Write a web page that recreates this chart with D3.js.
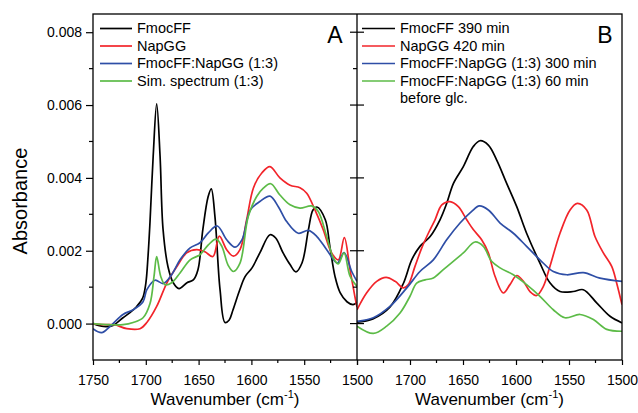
<!DOCTYPE html>
<html>
<head>
<meta charset="utf-8">
<script src="https://cdn.jsdelivr.net/npm/d3@7"></script>
<style>
  body { margin: 0; background: #fff; }
  svg { display: block; font-family: Arial, "Liberation Sans", sans-serif; }
</style>
</head>
<body>
<div id="chart"></div>
<script>
// ---- data: [wavenumber (cm-1), absorbance] ----
// panel A
const fmocA = [[1750,0],[1740,-0.00008],[1731,-0.00005],[1721.6,0.00016],[1715,0.0003],[1708.6,0.00047],[1703,0.0007],[1700,0.0011],[1698,0.0018],[1696,0.0028],[1693,0.0046],[1689.7,0.00603],[1686.5,0.0046],[1683.7,0.0026],[1679,0.00156],[1674,0.00112],[1668.6,0.00096],[1661,0.00112],[1655,0.0012],[1650.6,0.00148],[1646,0.00258],[1641,0.00348],[1638,0.0037],[1634.5,0.00293],[1629.7,0.00093],[1625,0.00003],[1621,0.0001],[1617.4,0.00038],[1611,0.00093],[1606,0.00129],[1599.4,0.00153],[1592,0.00194],[1582.4,0.00244],[1577,0.00235],[1570,0.00194],[1563.4,0.00162],[1557.8,0.00142],[1552,0.00167],[1546,0.00258],[1541.7,0.00312],[1538,0.0032],[1530,0.00285],[1525.6,0.0021],[1520.8,0.00129],[1516,0.00085],[1509.5,0.0006],[1503.8,0.00052],[1500,0.00058]];
const napA = [[1750,0],[1740,-0.00003],[1730,-0.00003],[1718,-0.00014],[1705.5,-0.00014],[1699,0.00003],[1689.7,0.00047],[1680,0.00112],[1670.7,0.00156],[1661.3,0.00194],[1651.8,0.00203],[1644,0.00197],[1636.4,0.00184],[1630.4,0.0024],[1623.4,0.00203],[1617,0.00185],[1610.8,0.00203],[1604.5,0.00285],[1598,0.00373],[1590,0.00414],[1582.4,0.00431],[1573,0.004],[1563.4,0.0038],[1554,0.00373],[1547.6,0.00358],[1539.8,0.00312],[1532,0.00258],[1524,0.00194],[1517.7,0.00175],[1512,0.00236],[1506.6,0.00148],[1502,0.00074],[1500,0.00045]];
const mixA = [[1750,-0.00014],[1741.8,-0.00025],[1734,-0.00008],[1721.6,0.00025],[1712,0.00038],[1702.6,0.0006],[1699,0.00093],[1691.3,0.00119],[1683.4,0.0011],[1675.5,0.00134],[1667.6,0.00175],[1658,0.00208],[1648.7,0.00222],[1640.8,0.00249],[1632.3,0.00268],[1623.4,0.0023],[1615.5,0.0021],[1609,0.0023],[1601,0.00312],[1592,0.00335],[1582.4,0.0035],[1574.5,0.00321],[1566.6,0.0028],[1555.6,0.00248],[1546,0.00256],[1538,0.00239],[1528.7,0.00203],[1518.6,0.00166],[1512.3,0.00195],[1505,0.00143],[1500,0.00116]];
const simA = [[1750,0],[1735,-0.00003],[1721.6,-0.00003],[1712,0.00003],[1702.6,0.00016],[1696,0.00055],[1692.2,0.0013],[1689.7,0.00184],[1685.9,0.0013],[1681.8,0.00107],[1675.5,0.00112],[1667.6,0.00139],[1658,0.00175],[1648.7,0.00189],[1640.8,0.00216],[1633.5,0.00232],[1628,0.00212],[1622,0.0016],[1617,0.00143],[1610.8,0.00166],[1603,0.00294],[1595,0.00349],[1588.7,0.00372],[1581.7,0.00384],[1573,0.00353],[1563.4,0.00326],[1554,0.00317],[1543,0.00323],[1536.7,0.00308],[1528.7,0.00239],[1522.4,0.0018],[1517.7,0.00164],[1512.3,0.00194],[1506.6,0.0013],[1500,0.00102]];
// panel B
const fmocB = [[1750,0.00004],[1735,0.00013],[1719,0.00045],[1706.3,0.0011],[1698.4,0.00175],[1690.6,0.00212],[1681,0.00239],[1671.7,0.00285],[1665.4,0.0033],[1659,0.00385],[1649.7,0.00431],[1640.3,0.00486],[1634,0.00502],[1626.1,0.0049],[1618.2,0.00449],[1608.8,0.00385],[1599.3,0.00321],[1590,0.00248],[1577.4,0.00166],[1568,0.00112],[1558.5,0.00088],[1546,0.00088],[1536.5,0.00093],[1523.9,0.00057],[1511.3,0.0002],[1500,0.00002]];
const napB = [[1750,0.00038],[1741,0.00084],[1731.4,0.00116],[1722.6,0.00127],[1714,0.00116],[1706.3,0.00098],[1701.6,0.00107],[1695.3,0.00157],[1689,0.00207],[1682.7,0.00248],[1676.4,0.00285],[1670,0.00326],[1662.3,0.00335],[1654.4,0.00321],[1646.5,0.00285],[1640.3,0.00258],[1632.4,0.0023],[1626.1,0.00194],[1619.8,0.0013],[1612,0.00084],[1605.7,0.00107],[1599.3,0.00132],[1593,0.00116],[1586.8,0.00088],[1580.5,0.00077],[1574.2,0.00102],[1568,0.00157],[1558.5,0.00248],[1549,0.00312],[1542.1,0.0033],[1533.3,0.00312],[1525.5,0.00239],[1517.6,0.00194],[1509.7,0.00157],[1505,0.00111],[1500,0.00052]];
const mixB = [[1750,0.00006],[1734.6,0.00016],[1718.9,0.00047],[1703,0.00098],[1690.6,0.00143],[1678,0.00175],[1665.4,0.0023],[1652.8,0.00276],[1641.8,0.00308],[1634.6,0.00323],[1626.1,0.00312],[1615,0.00276],[1602.5,0.00248],[1590,0.00212],[1577.4,0.00175],[1564.8,0.00143],[1552,0.00134],[1536.5,0.0014],[1520.8,0.00125],[1500,0.00116]];
const mix60B = [[1750,-0.00007],[1734.6,-0.00027],[1722,-0.00007],[1709.4,0.00029],[1700,0.00075],[1693.7,0.00111],[1685.8,0.0012],[1678,0.00125],[1668.6,0.00148],[1659.2,0.00171],[1649.7,0.00194],[1638.7,0.00224],[1630.8,0.00212],[1623,0.00171],[1615,0.00153],[1602.5,0.00134],[1590,0.00107],[1577.4,0.00075],[1564.8,0.00038],[1553.8,0.00016],[1539.6,0.00025],[1527,0.00011],[1514.4,-0.00016],[1500,-0.00021]];

const legendA = ["FmocFF", "NapGG", "FmocFF:NapGG (1:3)", "Sim. spectrum (1:3)"];
const legendB = ["FmocFF 390 min", "NapGG 420 min", "FmocFF:NapGG (1:3) 300 min", "FmocFF:NapGG (1:3) 60 min"];
const yMajor = [0, 0.002, 0.004, 0.006, 0.008];
const yMinor = [0.001, 0.003, 0.005, 0.007];
const xMajor = [1750, 1700, 1650, 1600, 1550, 1500];
const xMinor = [1725, 1675, 1625, 1575, 1525];
const colors = ["#000000", "#f2242a", "#2e4ea6", "#5cbb47"];

const W = 638, H = 413;
const plotTop = 14, plotBottom = 360;
const ax0 = 93, mid = 357, bx1 = 622;

const svg = d3.select("#chart").append("svg")
  .attr("width", W).attr("height", H);

const y = d3.scaleLinear().domain([-0.001, 0.0085]).range([plotBottom, plotTop]);
const xA = d3.scaleLinear().domain([1750, 1500]).range([ax0, mid]);
const xB = d3.scaleLinear().domain([1750, 1500]).range([mid, bx1]);

// clip paths
const defs = svg.append("defs");
defs.append("clipPath").attr("id", "clipA").append("rect")
  .attr("x", ax0).attr("y", plotTop).attr("width", mid - ax0).attr("height", plotBottom - plotTop);
defs.append("clipPath").attr("id", "clipB").append("rect")
  .attr("x", mid).attr("y", plotTop).attr("width", bx1 - mid).attr("height", plotBottom - plotTop);

function drawLines(series, x, clip) {
  const line = d3.line()
    .x(d => x(d[0]))
    .y(d => y(d[1]))
    .curve(d3.curveCatmullRom.alpha(0.5));
  const g = svg.append("g").attr("clip-path", `url(#${clip})`);
  series.forEach((s, i) => {
    g.append("path")
      .attr("d", line(s))
      .attr("fill", "none")
      .attr("stroke", colors[i])
      .attr("stroke-width", 1.7)
      .attr("stroke-linejoin", "round");
  });
}

drawLines([fmocA, napA, mixA, simA], xA, "clipA");
drawLines([fmocB, napB, mixB, mix60B], xB, "clipB");

// frame
svg.append("rect")
  .attr("x", ax0).attr("y", plotTop).attr("width", bx1 - ax0).attr("height", plotBottom - plotTop)
  .attr("fill", "none").attr("stroke", "#000").attr("stroke-width", 1.3);
svg.append("line")
  .attr("x1", mid).attr("x2", mid).attr("y1", plotTop).attr("y2", plotBottom)
  .attr("stroke", "#000").attr("stroke-width", 1.3);

// left y axis
const yAxis = svg.append("g")
  .attr("transform", `translate(${ax0},0)`)
  .call(d3.axisLeft(y).tickValues(yMajor).tickSize(7).tickPadding(4).tickFormat(d3.format(".3f")));
yAxis.select(".domain").remove();
yAxis.selectAll("text").attr("font-size", 14).attr("font-family", "Arial, 'Liberation Sans', sans-serif").attr("fill", "#000");
yAxis.selectAll("line").attr("stroke-width", 1.2);
svg.append("g").selectAll("line").data(yMinor).join("line")
  .attr("x1", ax0 - 4).attr("x2", ax0)
  .attr("y1", d => y(d)).attr("y2", d => y(d))
  .attr("stroke", "#000").attr("stroke-width", 1.2);

// ticks on the divider between panels
svg.append("g").selectAll("line").data(yMajor).join("line")
  .attr("x1", mid - 7).attr("x2", mid + 7)
  .attr("y1", d => y(d)).attr("y2", d => y(d))
  .attr("stroke", "#000").attr("stroke-width", 1.2);
svg.append("g").selectAll("line").data(yMinor).join("line")
  .attr("x1", mid - 4).attr("x2", mid)
  .attr("y1", d => y(d)).attr("y2", d => y(d))
  .attr("stroke", "#000").attr("stroke-width", 1.2);

// bottom axes
function xAxis(x, labels) {
  const g = svg.append("g")
    .attr("transform", `translate(0,${plotBottom})`)
    .call(d3.axisBottom(x).tickValues(xMajor).tickSize(5).tickPadding(10).tickFormat(d3.format("d")));
  g.select(".domain").remove();
  g.selectAll("text").attr("font-size", 14).attr("font-family", "Arial, 'Liberation Sans', sans-serif").attr("fill", "#000");
  g.selectAll("line").attr("stroke-width", 1.2);
  g.selectAll(".tick").filter(d => !labels.includes(d)).select("text").remove();
  g.selectAll(".minor").data(xMinor).join("line")
    .attr("class", "minor")
    .attr("x1", d => x(d)).attr("x2", d => x(d))
    .attr("y1", 0).attr("y2", 3)
    .attr("stroke", "#000").attr("stroke-width", 1.2);
}
xAxis(xA, xMajor);
xAxis(xB, xMajor.filter(d => d !== 1750));

// axis titles
function xTitle(cx) {
  const t = svg.append("text")
    .attr("x", cx).attr("y", 405)
    .attr("text-anchor", "middle")
    .attr("font-size", 17);
  t.append("tspan").text("Wavenumber (cm");
  t.append("tspan").text("-1").attr("font-size", 11).attr("dy", -7);
  t.append("tspan").text(")").attr("dy", 7);
}
xTitle((ax0 + mid) / 2);
xTitle((mid + bx1) / 2);

svg.append("text")
  .attr("transform", "translate(27,201) rotate(-90)")
  .attr("text-anchor", "middle")
  .attr("font-size", 20)
  .text("Absorbance");

// panel letters
svg.append("text").attr("x", 335).attr("y", 43).attr("text-anchor", "middle")
  .attr("font-size", 23).text("A");
svg.append("text").attr("x", 605).attr("y", 43).attr("text-anchor", "middle")
  .attr("font-size", 23).text("B");

// legends
function legend(items, x0, x1, tx) {
  const g = svg.append("g");
  items.forEach((name, i) => {
    const base = 33 + i * 17.5;
    g.append("line")
      .attr("x1", x0).attr("x2", x1)
      .attr("y1", base - 4.5).attr("y2", base - 4.5)
      .attr("stroke", colors[i]).attr("stroke-width", 1.7);
    g.append("text")
      .attr("x", tx).attr("y", base)
      .attr("font-size", 14.5)
      .text(name);
  });
  return g;
}
legend(legendA, 100, 132, 137);
const lgB = legend(legendB, 362, 395, 400);
lgB.append("text")
  .attr("x", 400).attr("y", 33 + 4 * 17.5)
  .attr("font-size", 14.5)
  .text("before glc.");
</script>
</body>
</html>
